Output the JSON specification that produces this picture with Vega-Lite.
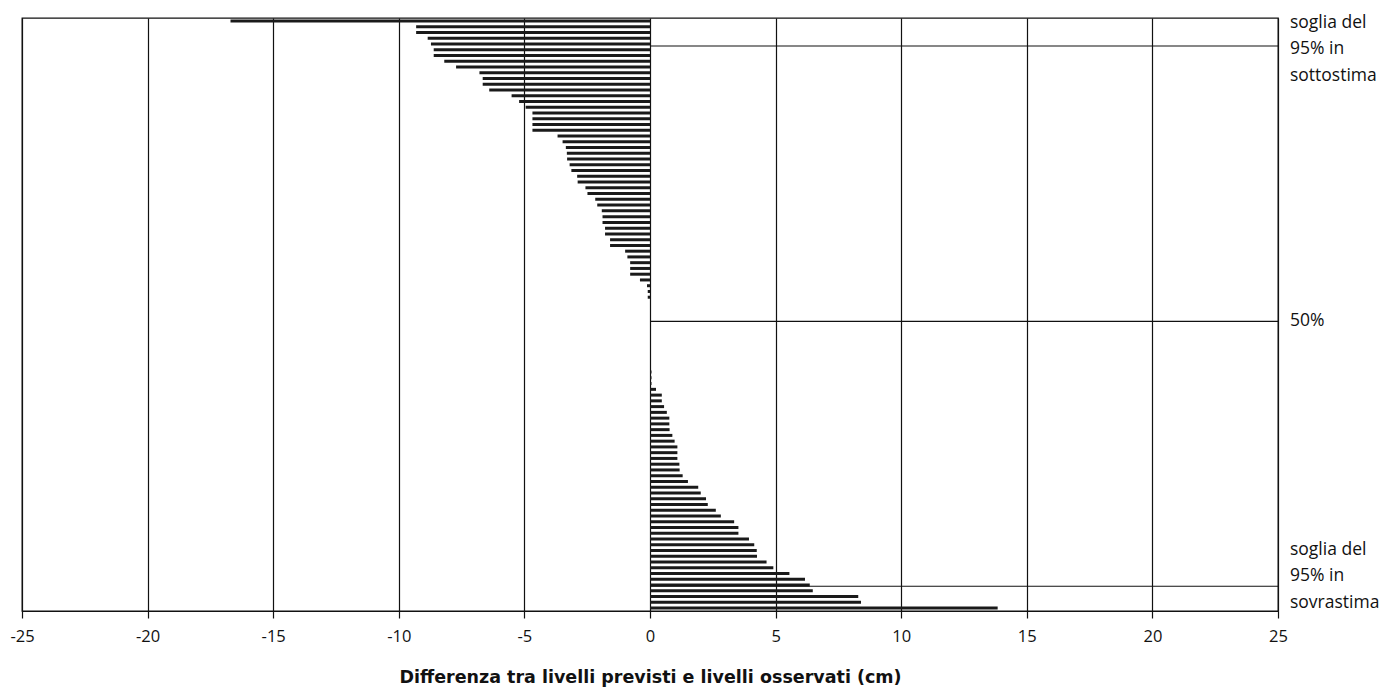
{
  "$schema": "https://vega.github.io/schema/vega-lite/v6.json",
  "width": 1256,
  "height": 593,
  "autosize": {"type": "none"},
  "padding": {"left": 22, "top": 18, "right": 110, "bottom": 85},
  "background": "white",
  "config": {"view": {"stroke": "#111", "strokeWidth": 1.3}, "font": "Open Sans"},
  "datasets": {
    "diffs": [
      {"rango": 1, "diff": -16.7}, {"rango": 2, "diff": -9.31}, {"rango": 3, "diff": -9.31}, {"rango": 4, "diff": -8.85},
      {"rango": 5, "diff": -8.72}, {"rango": 6, "diff": -8.61}, {"rango": 7, "diff": -8.61}, {"rango": 8, "diff": -8.19},
      {"rango": 9, "diff": -7.72}, {"rango": 10, "diff": -6.79}, {"rango": 11, "diff": -6.66}, {"rango": 12, "diff": -6.66},
      {"rango": 13, "diff": -6.4}, {"rango": 14, "diff": -5.51}, {"rango": 15, "diff": -5.21}, {"rango": 16, "diff": -4.95},
      {"rango": 17, "diff": -4.68}, {"rango": 18, "diff": -4.68}, {"rango": 19, "diff": -4.68}, {"rango": 20, "diff": -4.68},
      {"rango": 21, "diff": -3.68}, {"rango": 22, "diff": -3.48}, {"rango": 23, "diff": -3.35}, {"rango": 24, "diff": -3.31},
      {"rango": 25, "diff": -3.3}, {"rango": 26, "diff": -3.2}, {"rango": 27, "diff": -3.13}, {"rango": 28, "diff": -2.9},
      {"rango": 29, "diff": -2.88}, {"rango": 30, "diff": -2.57}, {"rango": 31, "diff": -2.49}, {"rango": 32, "diff": -2.18},
      {"rango": 33, "diff": -2.1}, {"rango": 34, "diff": -1.92}, {"rango": 35, "diff": -1.89}, {"rango": 36, "diff": -1.89},
      {"rango": 37, "diff": -1.79}, {"rango": 38, "diff": -1.79}, {"rango": 39, "diff": -1.59}, {"rango": 40, "diff": -1.59},
      {"rango": 41, "diff": -0.99}, {"rango": 42, "diff": -0.9}, {"rango": 43, "diff": -0.79}, {"rango": 44, "diff": -0.79},
      {"rango": 45, "diff": -0.79}, {"rango": 46, "diff": -0.4}, {"rango": 47, "diff": -0.12}, {"rango": 48, "diff": -0.09},
      {"rango": 49, "diff": -0.09},
      {"rango": 50, "diff": 0}, {"rango": 51, "diff": 0}, {"rango": 52, "diff": 0}, {"rango": 53, "diff": 0},
      {"rango": 54, "diff": 0}, {"rango": 55, "diff": 0}, {"rango": 56, "diff": 0}, {"rango": 57, "diff": 0},
      {"rango": 58, "diff": 0}, {"rango": 59, "diff": 0}, {"rango": 60, "diff": 0}, {"rango": 61, "diff": 0},
      {"rango": 62, "diff": 0.06}, {"rango": 63, "diff": 0.06}, {"rango": 64, "diff": 0.06}, {"rango": 65, "diff": 0.24},
      {"rango": 66, "diff": 0.47}, {"rango": 67, "diff": 0.47}, {"rango": 68, "diff": 0.56}, {"rango": 69, "diff": 0.67},
      {"rango": 70, "diff": 0.77}, {"rango": 71, "diff": 0.77}, {"rango": 72, "diff": 0.78}, {"rango": 73, "diff": 0.89},
      {"rango": 74, "diff": 0.98}, {"rango": 75, "diff": 1.09}, {"rango": 76, "diff": 1.09}, {"rango": 77, "diff": 1.09},
      {"rango": 78, "diff": 1.17}, {"rango": 79, "diff": 1.18}, {"rango": 80, "diff": 1.3}, {"rango": 81, "diff": 1.51},
      {"rango": 82, "diff": 1.92}, {"rango": 83, "diff": 2.02}, {"rango": 84, "diff": 2.23}, {"rango": 85, "diff": 2.3},
      {"rango": 86, "diff": 2.62}, {"rango": 87, "diff": 2.82}, {"rango": 88, "diff": 3.35}, {"rango": 89, "diff": 3.52},
      {"rango": 90, "diff": 3.52}, {"rango": 91, "diff": 3.94}, {"rango": 92, "diff": 4.15}, {"rango": 93, "diff": 4.25},
      {"rango": 94, "diff": 4.26}, {"rango": 95, "diff": 4.64}, {"rango": 96, "diff": 4.91}, {"rango": 97, "diff": 5.55},
      {"rango": 98, "diff": 6.17}, {"rango": 99, "diff": 6.36}, {"rango": 100, "diff": 6.48}, {"rango": 101, "diff": 8.29},
      {"rango": 102, "diff": 8.4}, {"rango": 103, "diff": 13.84}
    ],
    "soglie": [
      {"pos": 5.36, "tpos": 1.35, "etichetta": ["soglia del", "95% in", "sottostima"]},
      {"pos": 53.2, "tpos": 53.2, "etichetta": ["50%"]},
      {"pos": 99.2, "tpos": 92.9, "etichetta": ["soglia del", "95% in", "sovrastima"]}
    ]
  },
  "layer": [
    {
      "data": {"name": "diffs"},
      "mark": {"type": "rule", "strokeWidth": 3, "color": "#1a1a1a", "strokeCap": "butt"},
      "encoding": {
        "y": {
          "field": "rango", "type": "quantitative",
          "scale": {"domain": [0.5, 103.5], "reverse": true, "nice": false, "zero": false},
          "axis": null
        },
        "x": {
          "field": "diff", "type": "quantitative",
          "scale": {"domain": [-25, 25], "nice": false, "zero": false},
          "axis": {
            "values": [-25, -20, -15, -10, -5, 0, 5, 10, 15, 20, 25],
            "labelExpr": "datum.value < 0 ? '-' + abs(datum.value) : '' + datum.value",
            "grid": true, "gridColor": "#111", "gridWidth": 1.2, "gridOpacity": 1,
            "domainColor": "#111", "domainWidth": 1.2,
            "tickColor": "#111", "tickSize": 7, "tickWidth": 1.2,
            "labelFontSize": 16.5, "labelColor": "#111", "labelPadding": 10,
            "labelFlush": false, "labelOverlap": false, "labelFont": "Open Sans",
            "title": "Differenza tra livelli previsti e livelli osservati (cm)",
            "titleFontSize": 17.5, "titleFontWeight": "bold", "titleColor": "#111",
            "titlePadding": 24, "titleFont": "DejaVu Sans"
          }
        },
        "x2": {"datum": 0}
      }
    },
    {
      "data": {"name": "soglie"},
      "mark": {"type": "rule", "color": "#111", "strokeWidth": 1.2},
      "encoding": {
        "y": {"field": "pos", "type": "quantitative"},
        "x": {"datum": 0},
        "x2": {"datum": 25}
      }
    },
    {
      "data": {"name": "soglie"},
      "mark": {"type": "text", "align": "left", "baseline": "middle", "dx": 12, "fontSize": 17.5, "lineHeight": 26.5, "color": "#111", "font": "Open Sans"},
      "encoding": {
        "y": {"field": "tpos", "type": "quantitative"},
        "x": {"datum": 25},
        "text": {"field": "etichetta"}
      }
    }
  ]
}
